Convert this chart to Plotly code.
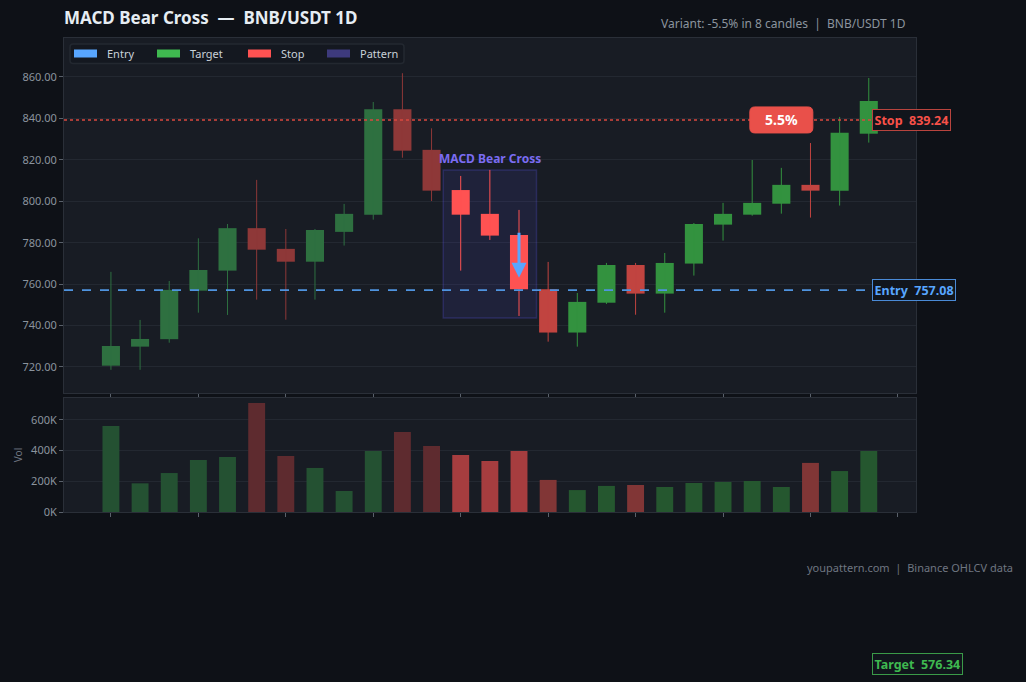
import plotly.graph_objects as go

# ---------------- data ----------------
idx = list(range(27))
opens  = [720.6, 729.8, 733.4, 756.8, 766.5, 787.0, 777.0, 770.8, 785.2, 793.5, 844.4, 824.8,
          805.4, 793.9, 783.7, 757.5, 736.6, 751.0, 769.2, 755.4, 769.9, 788.7, 793.5, 798.8,
          807.9, 805.1, 832.6]
highs  = [765.9, 742.7, 761.5, 782.1, 789.0, 810.3, 786.6, 786.6, 798.7, 847.9, 861.8, 835.2,
          812.2, 815.1, 795.8, 770.7, 755.7, 770.2, 770.2, 775.0, 789.5, 799.2, 819.9, 816.1,
          828.1, 840.7, 859.5]
lows   = [718.6, 718.6, 731.7, 746.2, 745.1, 752.5, 742.8, 752.5, 778.6, 791.1, 821.0, 800.1,
          766.5, 781.3, 744.6, 732.2, 729.8, 750.4, 745.2, 746.2, 764.1, 781.0, 793.0, 794.0,
          792.1, 797.9, 828.3]
closes = [730.1, 733.5, 757.2, 766.8, 787.0, 776.6, 770.8, 786.1, 793.9, 844.4, 824.4, 805.1,
          793.5, 783.4, 757.5, 736.6, 751.4, 769.2, 755.4, 770.2, 789.0, 793.9, 799.2, 807.9,
          805.1, 833.0, 848.4]
volumes = [561e3, 187e3, 254e3, 339e3, 359e3, 711e3, 365e3, 287e3, 137e3, 398e3, 522e3, 430e3,
           372e3, 333e3, 398e3, 209e3, 143e3, 170e3, 176e3, 163e3, 189e3, 196e3, 202e3, 163e3,
           320e3, 267e3, 398e3]
pattern_start, pattern_end = 12, 14
entry_price = 757.08
stop_price = 839.24
target_price = 576.34
move_label = "5.5%"
move_idx = 23
pattern_name = "MACD Bear Cross"
vol_ticks = [0, 200e3, 400e3, 600e3]
vol_tick_text = ["0K", "200K", "400K", "600K"]
legend_names = ["Entry", "Target", "Stop", "Pattern"]

# ---------------- styling ----------------
FONT = "Noto Sans"
BG = "#0e1117"
PLOT_BG = "#181c24"
GRID = "#232831"
AXLINE = "#2a2f38"
TICK = "#8b949e"
BLUE = "#58a6ff"
GREEN = "#3fb950"
RED = "#f85149"
PURPLE = "#7b6cf2"
legend_colors = [BLUE, "#3fb950", "#ff5252", "#3d3a7c"]

W, H = 1026, 682
ML, MR, MT, MB = 64, 110, 38, 170
PW, PH = W - ML - MR, H - MT - MB
Y_RANGE = [707.4, 878.8]
X_RANGE = [-1.61, 27.62]
MAIN_DOM = [0.251, 1.0]
VOL_DOM = [0.0, 0.2405]


def px2x(px):
    return (px - ML) / PW


def px2y(py):
    return (H - MB - py) / PH


def candle_color(i):
    up = closes[i] >= opens[i]
    if pattern_start <= i <= pattern_end:
        return "#ff5252"
    if i < pattern_start:
        return "#2e7040" if up else "#8e3838"
    return "#33923f" if up else "#c14440"


def vol_color(i):
    up = closes[i] >= opens[i]
    if pattern_start <= i <= pattern_end:
        return "#a63d3f"
    if i < pattern_start:
        return "#245132" if up else "#5e2b2f"
    return "#25572f" if up else "#813636"


colors = [candle_color(i) for i in idx]

fig = go.Figure()

# wicks, grouped by colour
for col in sorted(set(colors)):
    xs, ys = [], []
    for i in idx:
        if colors[i] == col:
            xs += [i, i, None]
            ys += [lows[i], highs[i], None]
    fig.add_trace(go.Scatter(x=xs, y=ys, mode="lines", line=dict(color=col, width=1),
                             showlegend=False, hoverinfo="skip", xaxis="x", yaxis="y"))

# bodies
body_base = [min(o, c) for o, c in zip(opens, closes)]
body_h = [max(abs(c - o), 0.6) for o, c in zip(opens, closes)]
fig.add_trace(go.Bar(x=idx, y=body_h, base=body_base, width=0.62,
                     marker=dict(color=colors, line=dict(width=0)),
                     showlegend=False, xaxis="x", yaxis="y"))

# volume
fig.add_trace(go.Bar(x=idx, y=volumes, width=0.58,
                     marker=dict(color=[vol_color(i) for i in idx], line=dict(width=0)),
                     showlegend=False, xaxis="x2", yaxis="y2"))

shapes = []
annotations = []

# pattern box
shapes.append(dict(type="rect", xref="x", yref="y",
                   x0=pattern_start - 0.6, x1=pattern_end + 0.6,
                   y0=min(lows[pattern_start:pattern_end + 1]) - 1.0,
                   y1=max(highs[pattern_start:pattern_end + 1]),
                   fillcolor="rgba(99,91,255,0.10)", line=dict(color="rgba(99,91,255,0.22)", width=1.5),
                   layer="between"))
# entry / stop lines
shapes.append(dict(type="line", xref="x domain", yref="y", x0=0, x1=1, y0=entry_price, y1=entry_price,
                   line=dict(color="#4f94e0", width=1.6, dash="dash"), layer="above"))
shapes.append(dict(type="line", xref="x domain", yref="y", x0=0, x1=1, y0=stop_price, y1=stop_price,
                   line=dict(color="#d9483f", width=1.6, dash="dot"), layer="above"))

# rounded badge for move percentage (radius/half sizes in px converted to data units)
px_per_x = PW / (X_RANGE[1] - X_RANGE[0])
px_per_y = (PH * (MAIN_DOM[1] - MAIN_DOM[0])) / (Y_RANGE[1] - Y_RANGE[0])


def rounded_path(x0, x1, y0, y1, rx, ry):
    return (f"M {x0+rx},{y0} L {x1-rx},{y0} Q {x1},{y0} {x1},{y0+ry} L {x1},{y1-ry} "
            f"Q {x1},{y1} {x1-rx},{y1} L {x0+rx},{y1} Q {x0},{y1} {x0},{y1-ry} "
            f"L {x0},{y0+ry} Q {x0},{y0} {x0+rx},{y0} Z")


hw, hh, r = 31.5 / px_per_x, 13 / px_per_y, 5
cx, cy = move_idx, stop_price
shapes.append(dict(type="path", xref="x", yref="y",
                   path=rounded_path(cx - hw, cx + hw, cy - hh, cy + hh, r / px_per_x, r / px_per_y),
                   fillcolor="#e9504a", line=dict(color="#e9504a", width=1), layer="above"))
annotations.append(dict(xref="x", yref="y", x=move_idx, y=stop_price, text=f"<b>{move_label}</b>",
                        showarrow=False, font=dict(family=FONT, size=14, color="#ffffff")))

# price tags
tag_x = 0.9485


def tag(text, yval, col, border, yref="y"):
    return dict(xref="paper", yref=yref, x=tag_x, y=yval, xanchor="left", yanchor="middle",
                text=f"<b>{text}</b>", showarrow=False,
                font=dict(family=FONT, size=12.5, color=col),
                bgcolor="#11151c", bordercolor=border, borderwidth=1, borderpad=1.5)


annotations.append(tag(f"Entry&nbsp; {entry_price:.2f}", entry_price, BLUE, "#4a8ad6"))
annotations.append(tag(f"Stop&nbsp; {stop_price:.2f}", stop_price, RED, "#b8443e"))
# target lies below the visible range: place it on paper at its scaled position
target_paper = MAIN_DOM[0] + (MAIN_DOM[1] - MAIN_DOM[0]) * (target_price - Y_RANGE[0]) / (Y_RANGE[1] - Y_RANGE[0])
annotations.append(tag(f"Target&nbsp; {target_price:.2f}", target_paper, GREEN, "#3a9a48", yref="paper"))

# pattern label + arrow
annotations.append(dict(xref="x", yref="y", x=(pattern_start + pattern_end) / 2,
                        y=max(highs[pattern_start:pattern_end + 1]), yanchor="bottom",
                        text=f"<b>{pattern_name}</b>", showarrow=False, yshift=1,
                        font=dict(family=FONT, size=12, color=PURPLE)))
annotations.append(dict(xref="x", yref="y", axref="x", ayref="y",
                        x=pattern_end, y=763.0, ax=pattern_end, ay=785.5, text="",
                        showarrow=True, arrowhead=2, arrowsize=1, arrowwidth=3, arrowcolor=BLUE))

# manual legend (box, swatches, labels)
shapes.append(dict(type="path", xref="paper", yref="paper",
                   path=rounded_path(px2x(70), px2x(404), px2y(63.5), px2y(44), 3 / PW, 3 / PH),
                   fillcolor="#141820", line=dict(color="#232830", width=1.5), layer="above"))
swatch_px = [74, 157, 248, 327]
for name, col, sx in zip(legend_names, legend_colors, swatch_px):
    shapes.append(dict(type="rect", xref="paper", yref="paper",
                       x0=px2x(sx), x1=px2x(sx + 23), y0=px2y(57.5), y1=px2y(49.5),
                       fillcolor=col, line=dict(width=0), layer="above"))
    annotations.append(dict(xref="paper", yref="paper", x=px2x(sx + 31), y=px2y(53.5),
                            xanchor="left", yanchor="middle", text=name, showarrow=False,
                            font=dict(family=FONT, size=11, color="#c9d1d9")))

# header / footer texts
annotations.append(dict(xref="paper", yref="paper", x=px2x(908), y=px2y(23), xanchor="right", yanchor="middle",
                        text="Variant: -5.5% in 8 candles&nbsp; |&nbsp; BNB/USDT 1D", showarrow=False,
                        font=dict(family=FONT, size=12, color="#8b949e")))
annotations.append(dict(xref="paper", yref="paper", x=px2x(1015), y=px2y(567), xanchor="right", yanchor="middle",
                        text="youpattern.com&nbsp; |&nbsp; Binance OHLCV data", showarrow=False,
                        font=dict(family=FONT, size=11, color="#6e7681")))

axis_common = dict(zeroline=False, showline=True, linecolor=AXLINE, linewidth=1, mirror=True,
                   ticks="outside", ticklen=4, tickcolor="#5a616b",
                   tickfont=dict(family=FONT, size=11, color=TICK))

fig.update_layout(
    width=W, height=H,
    paper_bgcolor=BG, plot_bgcolor=PLOT_BG,
    margin=dict(l=ML, r=MR, t=MT, b=MB),
    font=dict(family=FONT, color=TICK),
    title=dict(text="<b>MACD Bear Cross&nbsp; —&nbsp; BNB/USDT 1D</b>", xref="paper", x=0, xanchor="left",
               yref="container", y=1 - 18 / H, yanchor="middle",
               font=dict(family=FONT, size=17, color="#e6edf3")),
    barmode="overlay",
    showlegend=False,
    xaxis=dict(domain=[0, 1], anchor="y", range=X_RANGE, tickmode="linear", tick0=0, dtick=3,
               showticklabels=False, showgrid=False, **axis_common),
    yaxis=dict(domain=MAIN_DOM, anchor="x", range=Y_RANGE, tickformat=".2f", dtick=20, tick0=720,
               showgrid=True, gridcolor=GRID, **axis_common),
    xaxis2=dict(domain=[0, 1], anchor="y2", matches="x", range=X_RANGE, tickmode="linear", tick0=0, dtick=3,
                showticklabels=False, showgrid=False, **axis_common),
    yaxis2=dict(domain=VOL_DOM, anchor="x2", range=[0, 743e3], tickvals=vol_ticks, ticktext=vol_tick_text,
                showgrid=True, gridcolor=GRID,
                title=dict(text="Vol", font=dict(family=FONT, size=10, color="#6e7681"), standoff=6),
                **axis_common),
    shapes=shapes,
    annotations=annotations,
)

fig.write_html("out.html")
